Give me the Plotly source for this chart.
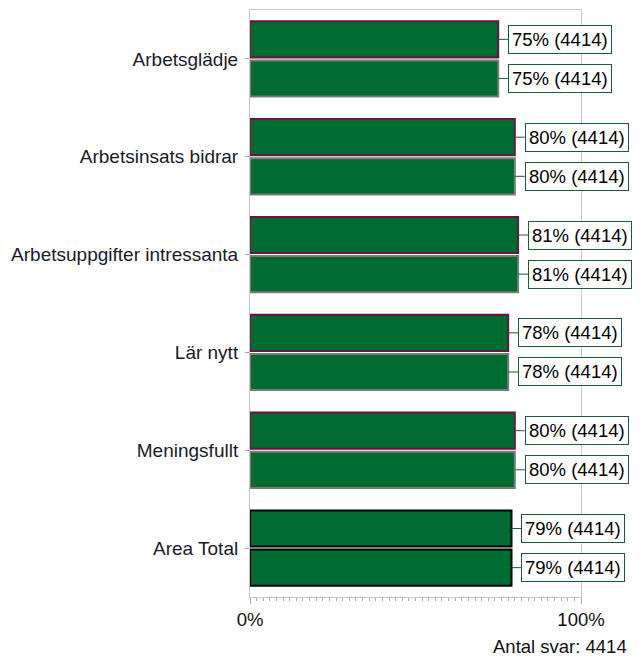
import plotly.graph_objects as go

categories = ["Arbetsglädje", "Arbetsinsats bidrar", "Arbetsuppgifter intressanta",
              "Lär nytt", "Meningsfullt", "Area Total"]
values_a = [75, 80, 81, 78, 80, 79]
values_b = [75, 80, 81, 78, 80, 79]
counts_a = [4414, 4414, 4414, 4414, 4414, 4414]
counts_b = [4414, 4414, 4414, 4414, 4414, 4414]
x_ticks = [0, 100]
x_tick_labels = ["0%", "100%"]
footer = "Antal svar: 4414"

FONT = "Liberation Sans, Arial"
FILL = "#006b30"
pos = list(range(len(categories)))
line_a = ["#000000" if c == "Area Total" else "#6e1245" for c in categories]
line_b = ["#000000" if c == "Area Total" else "#7a7a7a" for c in categories]

W, GAP = 0.37, 0.015
fig = go.Figure()
fig.add_trace(go.Bar(y=pos, x=values_a, orientation="h", width=W, offset=-W - GAP,
                     marker=dict(color=FILL, line=dict(color=line_a, width=2)),
                     hoverinfo="x"))
fig.add_trace(go.Bar(y=pos, x=values_b, orientation="h", width=W, offset=GAP,
                     marker=dict(color=FILL, line=dict(color=line_b, width=2)),
                     hoverinfo="x"))

ann = []
for i, (va, ca, vb, cb) in enumerate(zip(values_a, counts_a, values_b, counts_b)):
    for v, c, yy in ((va, ca, i - W / 2 - GAP), (vb, cb, i + W / 2 + GAP)):
        ann.append(dict(x=v, y=yy, xref="x", yref="y", text=f"{v}% ({c})",
                        showarrow=True, arrowhead=0, arrowwidth=1, arrowcolor="#1e5a36",
                        ax=10, ay=0, xanchor="left", yanchor="middle",
                        font=dict(family=FONT, size=18.5, color="#000"),
                        bgcolor="#ffffff", bordercolor="#1e5a36", borderwidth=1, borderpad=3))
ann.append(dict(x=1.145, y=-0.085, xref="paper", yref="paper", text=footer, showarrow=False,
                xanchor="right", yanchor="middle",
                font=dict(family=FONT, size=18.5, color="#111")))

fig.update_layout(
    width=632, height=657,
    margin=dict(l=242, r=59, t=2, b=68),
    paper_bgcolor="white", plot_bgcolor="white",
    showlegend=False, barmode="overlay",
    annotations=ann,
    font=dict(family=FONT, color="#111"),
    xaxis=dict(range=[0, 100], tickvals=x_ticks, ticktext=x_tick_labels,
               tickfont=dict(size=18.5, color="#111"), showgrid=False, zeroline=False,
               showline=True, linecolor="#c8c8c8", linewidth=1, mirror=True,
               ticks="outside", ticklen=6, tickcolor="#aaaaaa",
               minor=dict(dtick=2, ticks="outside", ticklen=3, tickcolor="#aaaaaa")),
    yaxis=dict(range=[5.5, -0.5], tickvals=pos, ticktext=categories,
               tickfont=dict(size=19, color="#1a1a2a"), showgrid=False, zeroline=False,
               showline=True, linecolor="#c8c8c8", linewidth=1, mirror=True,
               ticks="outside", ticklen=4, tickcolor="#aaaaaa", ticklabelstandoff=3),
)
fig.write_html("out.html")
